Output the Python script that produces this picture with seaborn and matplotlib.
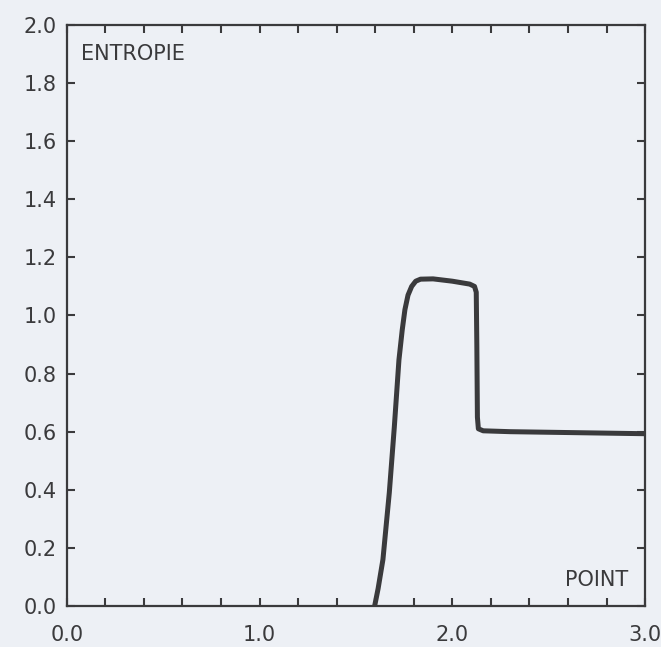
import numpy as np
import pandas as pd
import seaborn as sns
import matplotlib.pyplot as plt

# values
point = [1.597, 1.615, 1.64, 1.673, 1.699, 1.723, 1.74, 1.754, 1.77, 1.789,
         1.81, 1.835, 1.90, 2.00, 2.09, 2.115, 2.124, 2.127, 2.13, 2.135,
         2.16, 2.30, 2.60, 3.00]
entropie = [0.0, 0.06, 0.16, 0.39, 0.616, 0.847, 0.95, 1.02, 1.07, 1.10,
            1.118, 1.125, 1.126, 1.118, 1.108, 1.10, 1.08, 0.90, 0.65, 0.61,
            0.603, 0.600, 0.597, 0.593]

bg = "#edf0f5"
ink = "#3a3a3c"

sns.set_theme(style="ticks")
plt.rcParams["font.family"] = ["DejaVu Sans"]

df = pd.DataFrame({"point": point, "entropie": entropie})

fig = plt.figure(figsize=(6.61, 6.47), dpi=100, facecolor=bg)
ax = fig.add_axes([0.101, 0.0634, 0.875, 0.898])
ax.set_facecolor(bg)

sns.lineplot(data=df, x="point", y="entropie", ax=ax, color=ink, linewidth=3.6,
             sort=False, solid_joinstyle="round", solid_capstyle="round")

ax.set_xlim(0, 3)
ax.set_ylim(0, 2)
ax.set_xlabel("")
ax.set_ylabel("")

# x: small ticks every 0.2, labels only at whole numbers
xt = np.round(np.arange(0, 3.01, 0.2), 1)
ax.set_xticks(xt)
ax.set_xticklabels([f"{v:.1f}" if v in (0.0, 1.0, 2.0, 3.0) else "" for v in xt])
yt = np.round(np.arange(0, 2.01, 0.2), 1)
ax.set_yticks(yt)
ax.set_yticklabels([f"{v:.1f}" for v in yt])

ax.tick_params(axis="both", direction="in", length=6, width=1.5, color=ink,
               labelcolor=ink, labelsize=15, top=True, right=True)
ax.tick_params(axis="x", pad=14)
ax.tick_params(axis="y", pad=7)
for s in ax.spines.values():
    s.set_visible(True)
    s.set_linewidth(1.6)
    s.set_color(ink)

ax.text(0.073, 1.90, "ENTROPIE", color=ink, fontsize=15, va="center", ha="left")
ax.text(2.91, 0.09, "POINT", color=ink, fontsize=15, va="center", ha="right")

fig.savefig("out.png", dpi=100, facecolor=bg)
